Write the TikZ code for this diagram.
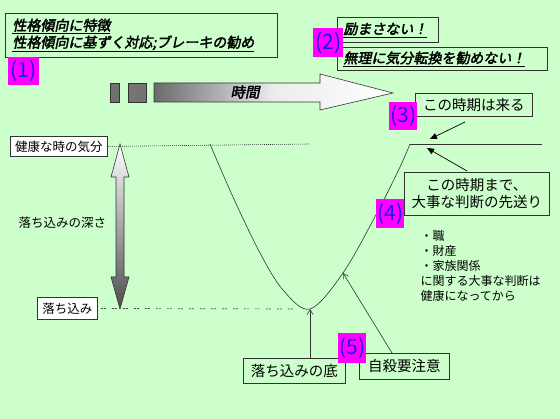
\documentclass[tikz,border=0pt]{standalone}
\usepackage{fontspec}
\setmainfont{Noto Sans CJK JP}
\newfontfamily\jpbi[FakeSlant=0.2,FakeBold=2.5]{Noto Sans CJK JP}
\usetikzlibrary{arrows.meta,shadings}
\definecolor{bg}{HTML}{CCFFCC}
\definecolor{mag}{HTML}{FF00FF}
\definecolor{numblue}{HTML}{1A1AE6}
\definecolor{edge}{HTML}{333333}
\begin{document}
\begin{tikzpicture}[x=1pt,y=-1pt,
  box/.style={draw=edge,line width=0.9pt,inner sep=0pt,anchor=north west},
  numbox/.style={fill=mag,text=numblue,inner sep=0pt,anchor=north west,font=\fontsize{21}{22}\selectfont},
  jtext/.style={font=\fontsize{12.5}{15}\selectfont},
  jbig/.style={font=\fontsize{14.5}{17}\selectfont},
  emph/.style={font=\jpbi\fontsize{14}{17}\selectfont},
  thin/.style={draw=edge,line width=0.6pt},
  tri/.style={-{Triangle[length=7pt,width=6pt]},line width=0.7pt,draw=black},
  open/.style={-{Straight Barb[length=5pt,width=6pt]},line width=0.6pt,draw=edge}
]
\fill[bg] (0,0) rectangle (560,419);
\useasboundingbox (0,0) rectangle (560,419);

% box (1)
\node[box,minimum width=272pt,minimum height=44pt,text width=258pt,inner xsep=7pt,align=left,emph] (b1) at (5,13)
  {\underline{性格傾向に特徴}\\\underline{性格傾向に基ずく対応;ブレーキの勧め}};
\node[numbox,minimum width=31pt,minimum height=28pt] (n1) at (8,57) {(1)};

% box (2)
\node[box,minimum width=101pt,minimum height=25pt,text width=89pt,inner xsep=6pt,align=left,emph] (b2a) at (337,17) {\underline{励まさない！}};
\node[box,minimum width=210pt,minimum height=23pt,text width=198pt,inner xsep=6pt,align=left,emph] (b2b) at (337,47) {\underline{無理に気分転換を勧めない！}};
\node[numbox,minimum width=30pt,minimum height=29pt] (n2) at (313,28) {(2)};

% time arrow
\fill[gray!60!black!80,draw=edge,line width=0.6pt] (110,83) rectangle (119,102);
\fill[gray!55!black!75,draw=edge,line width=0.6pt] (128,83) rectangle (146,102);
\path[draw=edge,line width=0.6pt,left color=black!58,right color=white,middle color=gray!15]
  (154,83) -- (320,83) -- (320,74) -- (393,93) -- (320,110) -- (320,102) -- (154,102) -- cycle;
\node[font=\jpbi\fontsize{14.5}{16}\selectfont] (time) at (245,92) {時間};

% levels
\node[box,fill=white,minimum width=97pt,minimum height=20pt,jtext] (health) at (10,136) {健康な時の気分};
\node[box,fill=white,minimum width=60pt,minimum height=22pt,jtext] (low) at (37,297) {落ち込み};
\node[jtext,anchor=west] (depth) at (15,223) {落ち込みの深さ};

\coordinate (c0) at (210,144);
\coordinate (cmin) at (310,309);
\coordinate (csui) at (343,273);
\coordinate (c1) at (410,144);
\coordinate (cend) at (542,144);
\coordinate (topdot) at (310,144);
\coordinate (lowdot) at (298,309);

\draw[line width=0.6pt,dash pattern=on 1pt off 1pt,draw=edge] (health.east) -- (topdot);
\draw[line width=0.7pt,dash pattern=on 2pt off 1pt on 2pt off 6pt,draw=gray!60!black] (low.east) ++(3,0) -- (lowdot);

% vertical double arrow
\path[draw=edge,line width=0.6pt,top color=white,bottom color=black!70]
  (120,144) -- (129,177) -- (124,177) -- (124,277) -- (129,277) -- (120,309)
  -- (111,277) -- (116,277) -- (116,177) -- (111,177) -- cycle;

% curve
\draw[thin] plot[smooth,tension=0.55] coordinates {(210,144) (233,197) (260,253) (283,290) (310,309) (343,273) (377,213) (400,167) (410,144)};
\draw[thin] (c1) -- (cend);

% (3)
\node[box,minimum width=117pt,minimum height=23pt,jbig] (b3) at (415,93) {この時期は来る};
\node[numbox,minimum width=28pt,minimum height=28pt] (n3) at (389,102) {(3)};
\coordinate (t3) at (430,139);
\draw[tri] (465,122) -- (t3);

% (4)
\node[box,minimum width=145pt,minimum height=43pt,align=center,jbig] (b4) at (404,172) {この時期まで、\\大事な判断の先送り};
\node[numbox,minimum width=28pt,minimum height=29pt] (n4) at (376,199) {(4)};
\coordinate (t4) at (427,148);
\draw[tri] (467,171) -- (t4);

\node[anchor=north west,align=left,font=\fontsize{12}{15}\selectfont] (list) at (417,227)
  {・職\\・財産\\・家族関係\\に関する大事な判断は\\健康になってから};

% (5)
\node[box,minimum width=102pt,minimum height=25pt,jbig] (bottom) at (243,358) {落ち込みの底};
\node[box,minimum width=90pt,minimum height=26pt,jbig] (sui) at (359,353) {自殺要注意};
\node[numbox,minimum width=28pt,minimum height=30pt] (n5) at (338,333) {(5)};
\draw[open] (bottom.north -| cmin) -- (cmin);
\draw[open] (392,353) -- (csui);
\end{tikzpicture}
\end{document}
